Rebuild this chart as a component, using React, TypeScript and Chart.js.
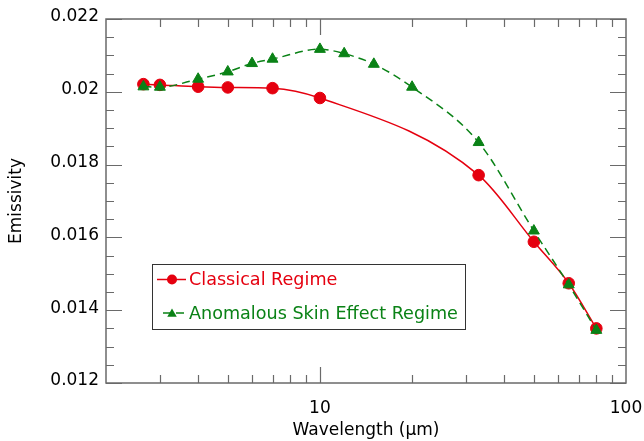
import React, { useEffect, useRef } from 'react';
import { Chart, registerables } from 'chart.js';

Chart.register(...registerables);

// ---- data ----
const classicalX = [2.65, 3, 4, 5, 7, 10, 33, 50, 65, 80];
const classicalY = [0.02021, 0.02019, 0.02014, 0.02012, 0.0201, 0.01983, 0.01771, 0.01588, 0.01474, 0.0135];
const anomalousX = [2.65, 3, 4, 5, 6, 7, 10, 12, 15, 20, 33, 50, 65, 80];
const anomalousY = [0.02014, 0.02013, 0.02035, 0.02055, 0.02078, 0.0209, 0.02117, 0.02105, 0.02076, 0.02013, 0.01861, 0.01618, 0.0147, 0.01345];
const xTickLabels = [10, 100];
const xMinorTicks = [3, 4, 5, 6, 7, 8, 9, 10, 20, 30, 40, 50, 60, 70, 80, 90];
const yMin = 0.012;
const yMax = 0.022;
const yMajorStep = 0.002;
const yMinorStep = 0.0005;
const seriesNames = ['Classical Regime', 'Anomalous Skin Effect Regime'];

const RED = '#e5000f';
const GREEN = '#0a8216';
const FRAME = '#6a6a6a';
const FONT = 'DejaVu Sans';

const framePlugin = {
  id: 'frameTicks',
  beforeDatasetsDraw(chart: any) {
    const { ctx, chartArea: a, scales } = chart;
    const xs = scales.x;
    const ys = scales.y;
    ctx.save();
    ctx.strokeStyle = FRAME;
    ctx.lineWidth = 1.2;
    const n = Math.round((yMax - yMin) / yMinorStep);
    for (let i = 0; i <= n; i++) {
      const v = yMin + i * yMinorStep;
      const major = i % Math.round(yMajorStep / yMinorStep) === 0;
      const len = major ? 16 : 8;
      const py = Math.round(ys.getPixelForValue(v)) + 0.5;
      ctx.beginPath();
      ctx.moveTo(a.left, py);
      ctx.lineTo(a.left + len, py);
      ctx.moveTo(a.right, py);
      ctx.lineTo(a.right - len, py);
      ctx.stroke();
    }
    for (const v of xMinorTicks) {
      const major = v === 10 || v === 100;
      const len = major ? 16 : 8;
      const px = Math.round(xs.getPixelForValue(v)) + 0.5;
      ctx.beginPath();
      ctx.moveTo(px, a.bottom);
      ctx.lineTo(px, a.bottom - len);
      ctx.moveTo(px, a.top);
      ctx.lineTo(px, a.top + len);
      ctx.stroke();
    }
    ctx.lineWidth = 1.5;
    ctx.strokeRect(a.left, a.top, a.right - a.left, a.bottom - a.top);
    ctx.restore();
  },
};

const legendPlugin = {
  id: 'boxLegend',
  afterDraw(chart: any) {
    const { ctx } = chart;
    const left = 152, top = 264, right = 465, bottom = 329;
    ctx.save();
    ctx.fillStyle = '#ffffff';
    ctx.fillRect(left, top, right - left, bottom - top);
    ctx.strokeStyle = '#333333';
    ctx.lineWidth = 1;
    ctx.strokeRect(left + 0.5, top + 0.5, right - left, bottom - top);
    ctx.font = `17.6px "${FONT}"`;
    ctx.textBaseline = 'middle';
    // Classical
    let y = 279.5;
    ctx.strokeStyle = RED;
    ctx.lineWidth = 1.5;
    ctx.beginPath();
    ctx.moveTo(157, y);
    ctx.lineTo(186, y);
    ctx.stroke();
    ctx.fillStyle = RED;
    ctx.beginPath();
    ctx.arc(172, y, 5, 0, Math.PI * 2);
    ctx.fill();
    ctx.fillText(seriesNames[0], 189, y + 1);
    // Anomalous
    y = 313;
    ctx.strokeStyle = GREEN;
    ctx.setLineDash([8, 5]);
    ctx.beginPath();
    ctx.moveTo(163, y);
    ctx.lineTo(184, y);
    ctx.stroke();
    ctx.setLineDash([]);
    ctx.fillStyle = GREEN;
    const r = 5.5;
    ctx.beginPath();
    for (let k = 0; k < 3; k++) {
      const ang = (k * 2 * Math.PI) / 3;
      const px = 172 + Math.sin(ang) * r;
      const py = y + 1 - Math.cos(ang) * r;
      if (k === 0) ctx.moveTo(px, py);
      else ctx.lineTo(px, py);
    }
    ctx.closePath();
    ctx.fill();
    ctx.fillText(seriesNames[1], 189, y + 1);
    ctx.restore();
  },
};

export default function App() {
  const ref = useRef<HTMLCanvasElement>(null);
  useEffect(() => {
    if (!ref.current) return;
    Chart.defaults.font.family = FONT;
    const chart = new Chart(ref.current, {
      type: 'line',
      data: {
        datasets: [
          {
            label: seriesNames[0],
            data: classicalX.map((x, i) => ({ x, y: classicalY[i] })),
            borderColor: RED,
            backgroundColor: RED,
            borderWidth: 1.5,
            pointRadius: 5.8,
            pointBorderWidth: 1,
            pointStyle: 'circle',
            cubicInterpolationMode: 'monotone',
            order: 1,
          },
          {
            label: seriesNames[1],
            data: anomalousX.map((x, i) => ({ x, y: anomalousY[i] })),
            borderColor: GREEN,
            backgroundColor: GREEN,
            borderWidth: 1.5,
            borderDash: [8, 5],
            pointRadius: 6.3,
            pointBorderWidth: 1,
            pointStyle: 'triangle',
            cubicInterpolationMode: 'monotone',
            order: 0,
          },
        ],
      },
      options: {
        animation: false,
        responsive: false,
        devicePixelRatio: 1,
        layout: { padding: { top: 19, right: 18, left: 0, bottom: 0 } },
        plugins: {
          legend: { display: false },
          tooltip: { enabled: false },
        },
        scales: {
          x: {
            type: 'logarithmic',
            min: 2,
            max: 100,
            grid: { display: false, drawTicks: false },
            border: { display: false },
            afterBuildTicks: (scale: any) => {
              scale.ticks = xTickLabels.map((v) => ({ value: v }));
            },
            afterFit: (scale: any) => {
              scale.height = 58;
              scale.paddingLeft = 0;
              scale.paddingRight = 0;
            },
            ticks: {
              color: '#000',
              font: { size: 17, family: FONT },
              padding: 15,
              maxRotation: 0,
              autoSkip: false,
              callback: (v: any) => String(v),
            },
            title: {
              display: true,
              text: 'Wavelength (μm)',
              color: '#000',
              font: { size: 17, family: FONT },
              padding: { top: 0, bottom: 0 },
            },
          },
          y: {
            type: 'linear',
            min: yMin,
            max: yMax,
            grid: { display: false, drawTicks: false },
            border: { display: false },
            afterFit: (scale: any) => {
              scale.width = 106;
              scale.paddingTop = 0;
              scale.paddingBottom = 0;
            },
            ticks: {
              stepSize: yMajorStep,
              color: '#000',
              font: { size: 17, family: FONT },
              padding: 7,
              labelOffset: -2,
              callback: (v: any) => String(Number(Number(v).toFixed(4))),
            },
            title: {
              display: true,
              text: 'Emissivity',
              color: '#000',
              font: { size: 17, family: FONT },
              padding: { top: 6, bottom: 0 },
            },
          },
        },
      },
      plugins: [framePlugin, legendPlugin],
    });
    return () => chart.destroy();
  }, []);
  return (
    <div style={{ position: 'absolute', left: 0, top: 0, width: 644, height: 441, background: '#fff' }}>
      <canvas ref={ref} width={644} height={441} />
    </div>
  );
}
